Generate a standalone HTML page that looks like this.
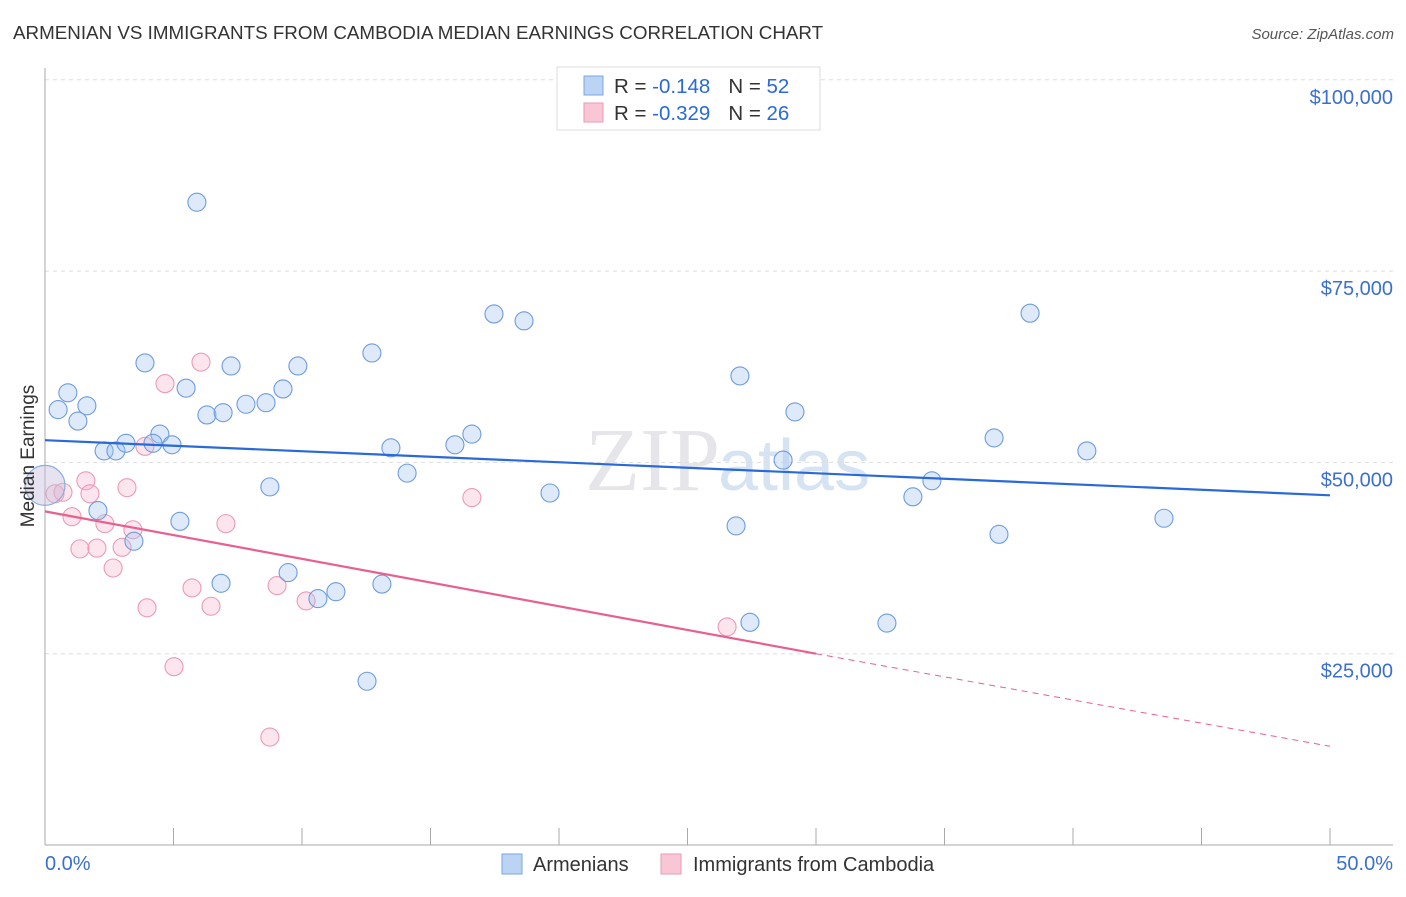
<!DOCTYPE html>
<html><head><meta charset="utf-8"><style>
body{margin:0;background:#fff;font-family:"Liberation Sans",sans-serif;}
</style></head><body>
<svg id="chart" width="1406" height="892" xmlns="http://www.w3.org/2000/svg" style="font-family:'Liberation Sans',sans-serif">
<text x="13" y="39" font-size="18.8" fill="#333">ARMENIAN VS IMMIGRANTS FROM CAMBODIA MEDIAN EARNINGS CORRELATION CHART</text>
<text x="1394" y="39" font-size="15" fill="#555" font-style="italic" text-anchor="end">Source: ZipAtlas.com</text>
<text x="720" y="490" font-size="90" fill="#e6e6ea" text-anchor="end" font-family="Liberation Serif">ZIP</text>
<text x="718" y="490" font-size="72" fill="#d6e3f3">atlas</text>
<g id="grid"></g><g id="axes"></g>
<g id="pinkpts"></g><g id="bluepts"></g><g id="lines"></g>
<text x="34" y="456" font-size="19" fill="#333" text-anchor="middle" transform="rotate(-90 34 456)">Median Earnings</text>
<text x="45" y="870" font-size="20" fill="#3b6fd0">0.0%</text>
<text x="1393" y="870" font-size="20" fill="#3b6fd0" text-anchor="end">50.0%</text>
<g>
<rect x="557" y="67" width="263" height="63" fill="#fff" stroke="#ddd"/>
<rect x="584" y="76" width="19" height="19" fill="#bcd4f4" stroke="#7aa6e0"/>
<rect x="584" y="103" width="19" height="19" fill="#f9c6d6" stroke="#e99ab4"/>
<text x="614" y="93" font-size="20.5" fill="#333">R = <tspan fill="#2a6ad8">-0.148</tspan><tspan dx="18">N = </tspan><tspan fill="#2a6ad8">52</tspan></text>
<text x="614" y="120" font-size="20.5" fill="#333">R = <tspan fill="#2a6ad8">-0.329</tspan><tspan dx="18">N = </tspan><tspan fill="#2a6ad8">26</tspan></text>
</g>
<g>
<rect x="502" y="854" width="20" height="20" fill="#bcd4f4" stroke="#7aa6e0"/>
<text x="533" y="871" font-size="20" fill="#333">Armenians</text>
<rect x="661" y="854" width="20" height="20" fill="#f9c6d6" stroke="#e99ab4"/>
<text x="693" y="871" font-size="20" fill="#333">Immigrants from Cambodia</text>
</g>
</svg>
<script>
const yTicks=[25000,50000,75000,100000];
const yTickLabels=["$25,000","$50,000","$75,000","$100,000"];
const xTicks=[0,5,10,15,20,25,30,35,40,45,50];
const bluePct=[5.91,0.51,0.89,1.63,1.28,2.30,2.76,3.15,3.89,4.47,4.20,4.94,5.49,6.30,6.93,7.24,7.82,8.60,9.26,9.84,12.72,13.46,14.09,15.95,16.61,17.47,18.64,19.65,2.06,3.46,5.25,6.85,8.75,9.46,10.62,11.32,12.53,13.11,27.04,29.18,28.72,26.89,27.43,32.76,33.77,34.51,36.93,37.12,38.33,40.54,43.54];
const blueVal=[84.0,56.9,59.1,57.4,55.4,51.5,51.5,52.5,63.0,53.7,52.5,52.3,59.7,56.2,56.5,62.6,57.6,57.8,59.6,62.6,64.3,51.9,48.6,52.3,53.7,69.4,68.5,46.0,43.7,39.7,42.3,34.2,46.8,35.6,32.2,33.1,21.4,34.1,61.3,56.6,50.3,41.7,29.1,29.0,45.5,47.6,53.2,40.6,69.5,51.5,42.7];
const pinkPct=[0.39,0.70,1.05,1.36,1.59,1.75,2.02,2.33,2.65,3.00,3.19,3.42,3.97,3.89,4.67,5.02,5.72,6.07,6.46,7.04,8.75,9.03,10.16,16.61,26.54];
const pinkVal=[45.9,46.1,42.9,38.7,47.6,45.9,38.8,42.0,36.2,38.9,46.7,41.2,31.0,52.1,60.3,23.3,33.6,63.1,31.2,42.0,14.1,33.9,31.9,45.4,28.5];
const bigPct=[0], bigVal=[47.0];
const blueLine=[[0,52.9],[50,45.7]];
const pinkLine=[[0,43.6],[30,25.0],[50,12.9]];
const X=p=>45+p*25.7, Y=v=>845-v*1000*191.3/25000;
const NS="http://www.w3.org/2000/svg";
function mk(t,a,parent){const e=document.createElementNS(NS,t);for(const k in a)e.setAttribute(k,a[k]);document.querySelector(parent).appendChild(e);return e;}
yTicks.forEach((v,i)=>{
 const l=mk('line',{x1:45,x2:1393,y1:Y(v/1000),y2:Y(v/1000),stroke:'#ddd','stroke-dasharray':'4,4'},'#grid');
 
 
 const t=mk('text',{x:1393,y:Y(v/1000)+24,'font-size':20,fill:'#3b6fd0','text-anchor':'end'},'#grid');
 t.textContent=yTickLabels[i];
 
 
});
const ya=mk('line',{x1:45,x2:45,y1:68,y2:845,stroke:'#aaa'},'#axes');


const xa=mk('line',{x1:45,x2:1393,y1:845,y2:845,stroke:'#aaa'},'#axes');


xTicks.forEach(p=>{const t=mk('line',{x1:X(p),x2:X(p),y1:828,y2:845,stroke:'#aaa'},'#axes');
 
 });
pinkPct.forEach((p,i)=>{const c=mk('circle',{cx:X(p),cy:Y(pinkVal[i]),r:9,fill:'rgba(246,170,195,0.3)',stroke:'#ec9ab5','stroke-width':1.1},'#pinkpts');
 
 });
bigPct.forEach((p,i)=>{const c=mk('circle',{cx:X(p),cy:Y(bigVal[i]),r:20,fill:'rgba(200,190,220,0.45)',stroke:'#8aaee0','stroke-width':1.2},'#bluepts');
 
 });
bluePct.forEach((p,i)=>{const c=mk('circle',{cx:X(p),cy:Y(blueVal[i]),r:9,fill:'rgba(160,195,240,0.35)',stroke:'#6d9be0','stroke-width':1.1},'#bluepts');
 
 });
const bl=mk('line',{x1:X(blueLine[0][0]),y1:Y(blueLine[0][1]),x2:X(blueLine[1][0]),y2:Y(blueLine[1][1]),stroke:'#2a6ad8','stroke-width':2.2},'#lines');


const pl=mk('line',{x1:X(pinkLine[0][0]),y1:Y(pinkLine[0][1]),x2:X(pinkLine[1][0]),y2:Y(pinkLine[1][1]),stroke:'#e8608e','stroke-width':2.2},'#lines');


const pd=mk('line',{x1:X(pinkLine[1][0]),y1:Y(pinkLine[1][1]),x2:X(pinkLine[2][0]),y2:Y(pinkLine[2][1]),stroke:'#e8608e','stroke-width':1,'stroke-dasharray':'6,5'},'#lines');


</script>
</body></html>
